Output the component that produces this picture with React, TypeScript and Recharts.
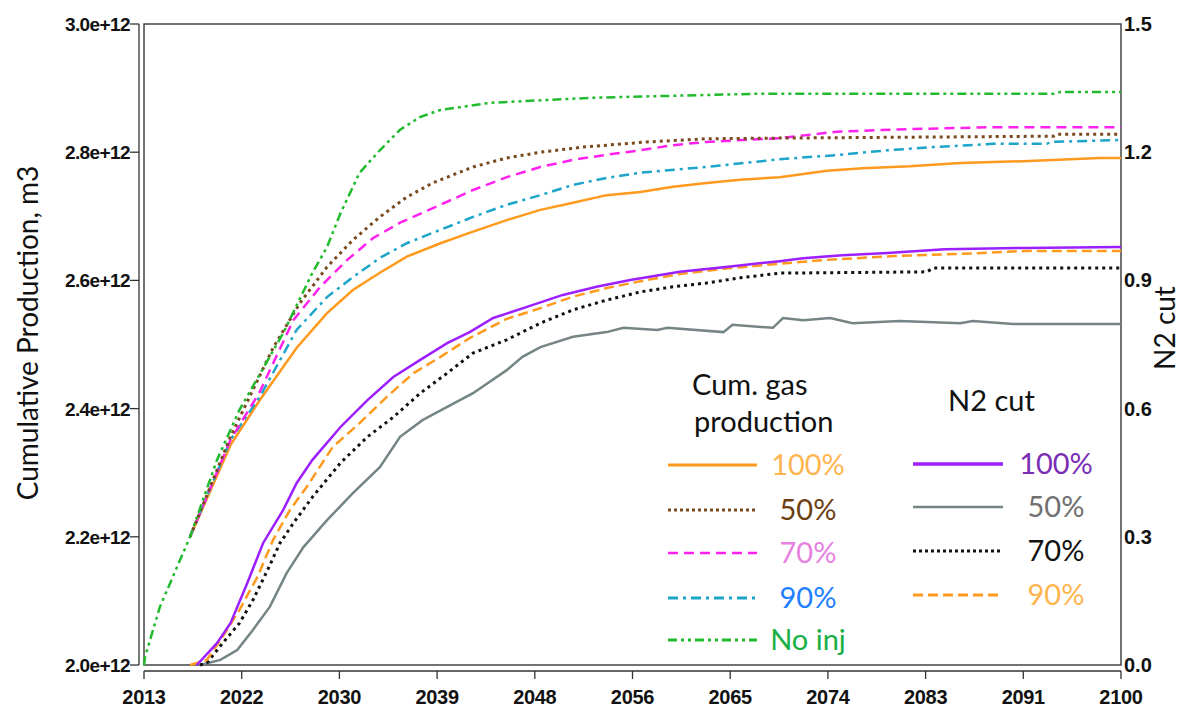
import { LineChart, Line, XAxis, YAxis, ReferenceArea } from "recharts";

const W = 1195;
const H = 708;
const PLOT_W = 977;
const PLOT_H = 641;

// axis ticks
const xTickLabels = ["2013", "2022", "2030", "2039", "2048", "2056", "2065", "2074", "2083", "2091", "2100"];
const xTicks = xTickLabels.map((_, i) => 2013 + (i * 87) / 10);
const leftTicks = [2.0, 2.2, 2.4, 2.6, 2.8, 3.0];
const rightTicks = [0, 0.3, 0.6, 0.9, 1.2, 1.5];

// Cum. gas production (units of 1e12 m3, left axis)
const noInjYears = [2013, 2013.1, 2014.4, 2017.1, 2019.5, 2021.5, 2025.4, 2028.0, 2029.3, 2030.5, 2032.2, 2034.0, 2035.8, 2037.6, 2039.4, 2043.8, 2048.3, 2053.0, 2067.2, 2094.0, 2094.6, 2100];
const noInjGas = [2.0, 2.013, 2.09, 2.2, 2.32, 2.398, 2.518, 2.612, 2.652, 2.705, 2.768, 2.803, 2.835, 2.855, 2.866, 2.877, 2.881, 2.885, 2.891, 2.891, 2.894, 2.894];

const gas50Years = [2017.1, 2020.7, 2024.5, 2026.9, 2029.3, 2031.6, 2034.0, 2036.4, 2038.7, 2042.3, 2045.3, 2048.3, 2052.1, 2057.8, 2063.1, 2069.6, 2094.0, 2094.3, 2100];
const gas50 = [2.2, 2.356, 2.495, 2.565, 2.621, 2.663, 2.699, 2.73, 2.752, 2.777, 2.791, 2.8, 2.808, 2.816, 2.821, 2.822, 2.825, 2.828, 2.828];

const gas70Years = [2017.1, 2020.7, 2023.3, 2026.3, 2028.7, 2031.1, 2033.4, 2035.8, 2039.4, 2042.3, 2045.3, 2048.3, 2051.2, 2054.2, 2057.2, 2060.1, 2063.1, 2069.6, 2074.7, 2080.9, 2088.6, 2100];
const gas70 = [2.2, 2.351, 2.426, 2.538, 2.59, 2.632, 2.666, 2.69, 2.718, 2.741, 2.761, 2.777, 2.788, 2.796, 2.803, 2.811, 2.816, 2.822, 2.832, 2.836, 2.839, 2.839];

const gas90Years = [2017.1, 2020.7, 2023.3, 2026.6, 2029.3, 2031.6, 2034.0, 2036.4, 2039.4, 2042.3, 2045.3, 2048.3, 2051.2, 2054.2, 2057.2, 2063.1, 2069.6, 2075.0, 2079.2, 2083.3, 2088.6, 2093.4, 2093.7, 2100];
const gas90 = [2.2, 2.351, 2.418, 2.523, 2.574, 2.605, 2.635, 2.658, 2.679, 2.699, 2.718, 2.733, 2.749, 2.76, 2.768, 2.777, 2.789, 2.796, 2.803, 2.808, 2.813, 2.813, 2.816, 2.819];

const gas100Years = [2017.1, 2020.7, 2023.3, 2026.6, 2029.3, 2031.6, 2034.0, 2036.4, 2039.4, 2042.3, 2045.3, 2048.3, 2051.2, 2054.2, 2057.2, 2060.1, 2063.1, 2066.1, 2069.6, 2073.8, 2077.0, 2081.2, 2085.7, 2091.3, 2098.1, 2100];
const gas100 = [2.2, 2.343, 2.413, 2.495, 2.549, 2.585, 2.612, 2.637, 2.658, 2.676, 2.694, 2.71, 2.721, 2.733, 2.738, 2.746, 2.752, 2.757, 2.761, 2.771, 2.775, 2.778, 2.783, 2.786, 2.791, 2.791];

// N2 cut (right axis)
const n2100Years = [2017.7, 2019.5, 2020.7, 2022.2, 2023.6, 2025.4, 2026.6, 2028.0, 2030.5, 2032.9, 2035.2, 2037.6, 2040.0, 2042.0, 2044.1, 2047.1, 2050.3, 2053.3, 2056.3, 2060.7, 2064.6, 2069.6, 2071.7, 2075.2, 2079.2, 2084.3, 2091.3, 2100];
const n2100 = [0, 0.051, 0.098, 0.192, 0.285, 0.363, 0.426, 0.48, 0.557, 0.62, 0.674, 0.714, 0.753, 0.779, 0.812, 0.838, 0.866, 0.885, 0.901, 0.92, 0.931, 0.945, 0.952, 0.959, 0.964, 0.973, 0.976, 0.978];

const n290Years = [2017.1, 2018.6, 2020.0, 2021.5, 2023.1, 2024.5, 2026.0, 2027.5, 2029.8, 2032.2, 2034.6, 2037.0, 2039.4, 2042.0, 2045.3, 2048.3, 2051.2, 2054.2, 2057.2, 2060.7, 2064.6, 2069.6, 2073.8, 2079.7, 2085.7, 2091.6, 2100];
const n290 = [0, 0.012, 0.066, 0.129, 0.206, 0.293, 0.363, 0.417, 0.51, 0.566, 0.627, 0.683, 0.721, 0.765, 0.81, 0.835, 0.862, 0.882, 0.898, 0.915, 0.927, 0.939, 0.948, 0.957, 0.962, 0.969, 0.969];

const n270Years = [2018.0, 2018.6, 2020.0, 2021.5, 2022.7, 2024.0, 2025.1, 2026.3, 2028.0, 2030.5, 2032.9, 2035.2, 2037.6, 2040.0, 2042.3, 2045.3, 2048.3, 2051.2, 2054.2, 2057.2, 2060.1, 2063.1, 2066.1, 2069.6, 2082.7, 2083.3, 2100];
const n270 = [0, 0.005, 0.051, 0.098, 0.152, 0.222, 0.285, 0.332, 0.393, 0.473, 0.534, 0.58, 0.636, 0.683, 0.73, 0.761, 0.8, 0.831, 0.854, 0.873, 0.885, 0.894, 0.906, 0.917, 0.92, 0.929, 0.929];

const n250Years = [2018.0, 2019.8, 2021.3, 2022.7, 2024.2, 2025.7, 2027.2, 2029.3, 2031.6, 2034.0, 2035.8, 2037.8, 2040.0, 2042.3, 2045.3, 2046.7, 2048.3, 2051.2, 2054.2, 2055.7, 2058.7, 2059.6, 2064.6, 2065.4, 2069.0, 2069.9, 2071.7, 2074.1, 2076.1, 2080.3, 2085.7, 2086.8, 2090.4, 2100];
const n250 = [0, 0.012, 0.035, 0.082, 0.136, 0.215, 0.276, 0.339, 0.402, 0.463, 0.534, 0.573, 0.604, 0.636, 0.69, 0.721, 0.744, 0.768, 0.779, 0.789, 0.784, 0.789, 0.779, 0.796, 0.789, 0.812, 0.807, 0.812, 0.8, 0.805, 0.8, 0.805, 0.798, 0.798];

const pts = (xs: number[], ys: number[]) => xs.map((year, i) => ({ year, v: ys[i] }));

const TICK_FONT = { fontFamily: "'Liberation Sans', Arial, sans-serif", fontWeight: 700, fill: "#111" };
const LABEL_FONT = "Lato, 'Open Sans', sans-serif";

function LeftTick({ x, y, index }: any) {
  return (
    <g>
      <line x1={x - 14} x2={x - 5} y1={y} y2={y} stroke="#333" strokeWidth={1.3} />
      {index === 0 && <line x1={x - 5} x2={x - 5} y1={y} y2={y - PLOT_H} stroke="#333" strokeWidth={1.3} />}
      <text x={x - 14} y={y + 7} textAnchor="end" {...TICK_FONT} fontSize={19} letterSpacing={-0.6}>
        {leftTicks[index].toFixed(1)}e+12
      </text>
    </g>
  );
}

function RightTick({ x, y, index }: any) {
  return (
    <text x={x + 3} y={y + 7} textAnchor="start" {...TICK_FONT} fontSize={20}>
      {rightTicks[index].toFixed(1)}
    </text>
  );
}

function BottomTick({ x, y, index }: any) {
  return (
    <g>
      {index === 0 && <line x1={x} x2={x + PLOT_W} y1={y + 6} y2={y + 6} stroke="#333" strokeWidth={1.3} />}
      <line x1={x} x2={x} y1={y + 6} y2={y + 14} stroke="#333" strokeWidth={1.3} />
      <text x={x} y={y + 39} textAnchor="middle" {...TICK_FONT} fontSize={20} letterSpacing={-0.3}>
        {xTickLabels[index]}
      </text>
    </g>
  );
}

const gasLegend = [
  { label: "100%", stroke: "#FF9A1E", dash: undefined, width: 3, text: "#FFB54F", y: 465 },
  { label: "50%", stroke: "#7A4A1F", dash: "3 3", width: 3, text: "#6B3F12", y: 510 },
  { label: "70%", stroke: "#FF22EE", dash: "10 6", width: 2.5, text: "#E681DE", y: 553 },
  { label: "90%", stroke: "#1CA5C8", dash: "10 5 3 5", width: 3, text: "#1F7FFF", y: 598 },
  { label: "No inj", stroke: "#22BB2E", dash: "9 4 3 4 3 4", width: 3, text: "#18B044", y: 640 },
];
const n2Legend = [
  { label: "100%", stroke: "#9D1FFF", dash: undefined, width: 3.5, text: "#7A2EB5", y: 464 },
  { label: "50%", stroke: "#758585", dash: undefined, width: 2.5, text: "#707070", y: 507 },
  { label: "70%", stroke: "#111111", dash: "3 3", width: 3, text: "#111111", y: 551 },
  { label: "90%", stroke: "#FF9A1E", dash: "10 5", width: 3, text: "#FFB54F", y: 595 },
];

function Overlay() {
  return (
    <svg width={W} height={H} style={{ position: "absolute", left: 0, top: 0, pointerEvents: "none" }}>
      <text transform="translate(38,333) rotate(-90)" textAnchor="middle" fontFamily={LABEL_FONT} fontSize={28} fill="#111">
        Cumulative Production, m3
      </text>
      <text transform="translate(1175,328) rotate(-90)" textAnchor="middle" fontFamily={LABEL_FONT} fontSize={28} fill="#111">
        N2 cut
      </text>
      <text x={692} y={395} fontFamily={LABEL_FONT} fontSize={29} fill="#111">Cum. gas</text>
      <text x={694} y={432} fontFamily={LABEL_FONT} fontSize={29} fill="#111">production</text>
      <text x={948} y={411} fontFamily={LABEL_FONT} fontSize={29} fill="#111">N2 cut</text>
      {gasLegend.map((d) => (
        <g key={"g" + d.label}>
          <line x1={668} x2={757} y1={d.y} y2={d.y} stroke={d.stroke} strokeWidth={d.width} strokeDasharray={d.dash} />
          <text x={808} y={d.y + 10} textAnchor="middle" fontFamily={LABEL_FONT} fontSize={29} fill={d.text}>{d.label}</text>
        </g>
      ))}
      {n2Legend.map((d) => (
        <g key={"n" + d.label}>
          <line x1={913} x2={1003} y1={d.y} y2={d.y} stroke={d.stroke} strokeWidth={d.width} strokeDasharray={d.dash} />
          <text x={1056} y={d.y + 10} textAnchor="middle" fontFamily={LABEL_FONT} fontSize={29} fill={d.text}>{d.label}</text>
        </g>
      ))}
    </svg>
  );
}

export default function App() {
  return (
    <div style={{ position: "absolute", left: 0, top: 0, width: W, height: H, background: "#fff" }}>
      <LineChart width={W} height={H} margin={{ top: 24, right: 0, bottom: 0, left: 0 }}>
        <XAxis
          type="number"
          dataKey="year"
          domain={[2013, 2100]}
          ticks={xTicks}
          interval={0}
          height={43}
          axisLine={false}
          tickLine={false}
          tickSize={0}
          tickMargin={0}
          tick={(p: any) => <BottomTick {...p} />}
        />
        <YAxis
          yAxisId="left"
          type="number"
          domain={[2, 3]}
          ticks={leftTicks}
          interval={0}
          width={144}
          axisLine={false}
          tickLine={false}
          tickSize={0}
          tickMargin={0}
          tick={(p: any) => <LeftTick {...p} />}
        />
        <YAxis
          yAxisId="right"
          orientation="right"
          type="number"
          domain={[0, 1.5]}
          ticks={rightTicks}
          interval={0}
          width={74}
          axisLine={false}
          tickLine={false}
          tickSize={0}
          tickMargin={0}
          tick={(p: any) => <RightTick {...p} />}
        />
        <ReferenceArea yAxisId="left" x1={2013} x2={2100} y1={2} y2={3} fill="none" stroke="#444" strokeWidth={1.5} ifOverflow="visible" />

        <Line yAxisId="right" data={pts(n250Years, n250)} dataKey="v" type="linear" stroke="#758585" strokeWidth={2.5} dot={false} isAnimationActive={false} />
        <Line yAxisId="right" data={pts(n270Years, n270)} dataKey="v" type="linear" stroke="#111" strokeWidth={3} strokeDasharray="3 4" dot={false} isAnimationActive={false} />
        <Line yAxisId="right" data={pts(n290Years, n290)} dataKey="v" type="linear" stroke="#FF9A1E" strokeWidth={2.5} strokeDasharray="10 5" dot={false} isAnimationActive={false} />
        <Line yAxisId="right" data={pts(n2100Years, n2100)} dataKey="v" type="linear" stroke="#9D1FFF" strokeWidth={2.5} dot={false} isAnimationActive={false} />

        <Line yAxisId="left" data={pts(gas100Years, gas100)} dataKey="v" type="linear" stroke="#FF9A1E" strokeWidth={2.5} dot={false} isAnimationActive={false} />
        <Line yAxisId="left" data={pts(gas90Years, gas90)} dataKey="v" type="linear" stroke="#1CA5C8" strokeWidth={2.5} strokeDasharray="10 5 3 5" dot={false} isAnimationActive={false} />
        <Line yAxisId="left" data={pts(gas70Years, gas70)} dataKey="v" type="linear" stroke="#FF22EE" strokeWidth={2.5} strokeDasharray="10 6" dot={false} isAnimationActive={false} />
        <Line yAxisId="left" data={pts(gas50Years, gas50)} dataKey="v" type="linear" stroke="#7A4A1F" strokeWidth={3} strokeDasharray="3 4" dot={false} isAnimationActive={false} />
        <Line yAxisId="left" data={pts(noInjYears, noInjGas)} dataKey="v" type="linear" stroke="#22BB2E" strokeWidth={2.5} strokeDasharray="9 4 3 4 3 4" dot={false} isAnimationActive={false} />
      </LineChart>
      <Overlay />
    </div>
  );
}
